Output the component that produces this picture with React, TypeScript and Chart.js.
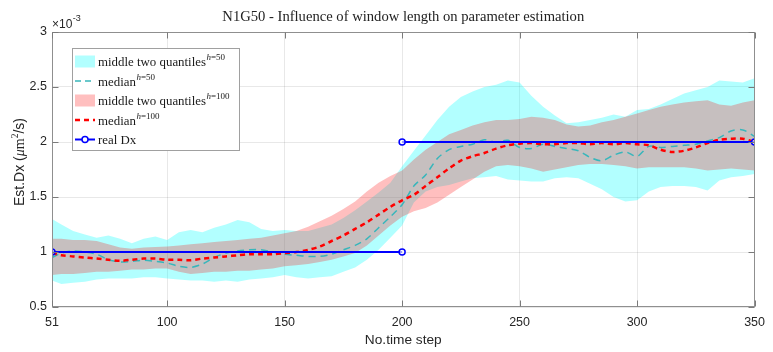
import React, { useEffect, useRef } from "react";
import { Chart, registerables } from "chart.js";

Chart.register(...registerables);

// ---- data (values are in units of 1e-3 µm²/s) ----
const steps = [
  51, 55, 60, 65, 70, 75, 80, 85, 90, 95,
  100, 105, 110, 115, 120, 125, 130, 135, 140, 145,
  150, 155, 160, 165, 170, 175, 180, 185, 190, 195,
  200, 205, 210, 215, 220, 225, 230, 235, 240, 245,
  250, 255, 260, 265, 270, 275, 280, 285, 290, 295,
  300, 305, 310, 315, 320, 325, 330, 335, 340, 345,
  350,
];

const q50Upper = [
  1.30, 1.25, 1.19, 1.16, 1.13, 1.15, 1.12, 1.08, 1.12, 1.14,
  1.11, 1.18, 1.20, 1.18, 1.22, 1.25, 1.29, 1.27, 1.21, 1.19,
  1.20, 1.19, 1.19, 1.22, 1.25, 1.31, 1.38, 1.46, 1.54, 1.63,
  1.78, 1.92, 2.06, 2.20, 2.32, 2.41, 2.46, 2.50, 2.52, 2.56,
  2.54, 2.42, 2.32, 2.24, 2.17, 2.18, 2.20, 2.22, 2.25, 2.23,
  2.29, 2.30, 2.34, 2.39, 2.44, 2.47, 2.50, 2.56, 2.55, 2.54,
  2.58,
];

const q50Lower = [
  0.74, 0.71, 0.72, 0.73, 0.75, 0.76, 0.76, 0.76, 0.77, 0.77,
  0.76, 0.75, 0.74, 0.74, 0.73, 0.74, 0.73, 0.75, 0.76, 0.77,
  0.79, 0.77, 0.76, 0.77, 0.78, 0.82, 0.86, 0.93, 1.02, 1.13,
  1.24, 1.45, 1.55, 1.59, 1.61, 1.64, 1.67, 1.68, 1.69, 1.66,
  1.65, 1.64, 1.64, 1.67, 1.68, 1.67, 1.62, 1.57, 1.50, 1.46,
  1.47, 1.55, 1.59, 1.60, 1.60, 1.59, 1.56, 1.65, 1.68, 1.69,
  1.71,
];

const q100Upper = [
  1.12, 1.12, 1.11, 1.11, 1.10, 1.07, 1.04, 1.03, 1.04, 1.045,
  1.05, 1.06, 1.07, 1.08, 1.09, 1.10, 1.11, 1.12, 1.13, 1.15,
  1.17, 1.19, 1.23, 1.28, 1.33, 1.39, 1.46, 1.55, 1.63, 1.69,
  1.74, 1.84, 1.93, 2.00, 2.07, 2.11, 2.15, 2.18, 2.20, 2.20,
  2.21, 2.23, 2.22, 2.20, 2.16, 2.14, 2.15, 2.18, 2.20, 2.23,
  2.26, 2.29, 2.32, 2.34, 2.36, 2.37, 2.38, 2.34, 2.33, 2.36,
  2.38,
];

const q100Lower = [
  0.79, 0.80, 0.80, 0.81, 0.82, 0.82, 0.83, 0.84, 0.84, 0.85,
  0.85, 0.82, 0.80, 0.81, 0.82, 0.82, 0.83, 0.83, 0.84, 0.85,
  0.87, 0.88, 0.89, 0.91, 0.93, 0.96, 0.99, 1.06, 1.15, 1.24,
  1.32, 1.37, 1.40, 1.45, 1.52, 1.59, 1.66, 1.73, 1.78, 1.79,
  1.78, 1.76, 1.73, 1.75, 1.77, 1.79, 1.80, 1.80, 1.79, 1.78,
  1.76, 1.77, 1.77, 1.77, 1.77, 1.76, 1.74, 1.75, 1.76, 1.75,
  1.74,
];

const median100 = [
  0.99, 0.97, 0.96, 0.95, 0.94, 0.93, 0.92, 0.93, 0.94, 0.94,
  0.93, 0.93, 0.925, 0.94, 0.95, 0.96, 0.97, 0.98, 0.98, 0.98,
  0.99, 1.00, 1.02, 1.05, 1.10, 1.15, 1.21, 1.27, 1.34, 1.41,
  1.47, 1.52, 1.60, 1.68, 1.76, 1.83, 1.87, 1.90, 1.94, 1.97,
  1.985, 1.99, 1.98, 1.98, 1.99, 1.99, 1.98, 1.99, 1.98, 1.99,
  1.98, 1.97, 1.93, 1.91, 1.92, 1.95, 1.99, 2.02, 2.03, 2.03,
  2.00,
];

const median50 = [
  0.95, 0.99, 1.01, 1.00, 0.98, 0.93, 0.91, 0.915, 0.925, 0.915,
  0.90, 0.87, 0.86, 0.89, 0.95, 0.99, 1.01, 1.02, 1.02, 1.00,
  0.98, 0.97, 0.96, 0.96, 0.98, 1.02, 1.06, 1.12, 1.22, 1.32,
  1.43, 1.60, 1.70, 1.85, 1.93, 1.96, 1.98, 2.02, 2.00, 2.015,
  1.95, 1.94, 1.98, 1.96, 1.94, 1.92, 1.86, 1.83, 1.88, 1.91,
  1.87, 1.96, 1.95, 1.96, 1.97, 1.98, 2.01, 2.04, 2.10, 2.11,
  2.05,
];

const realStepsA = [51, 200];
const realDxA = [1, 1];
const realStepsB = [200, 350];
const realDxB = [2, 2];

const xTicks = [51, 100, 150, 200, 250, 300, 350];
const yTicks = [0.5, 1, 1.5, 2, 2.5, 3];

const titleText = "N1G50 - Influence of window length on parameter estimation";
const xTitle = "No.time step";
const legendLabels = ["middle two quantiles", "median", "middle two quantiles", "median", "real Dx"];
const legendSups = ["h=50", "h=50", "h=100", "h=100", ""];

const CYAN_FILL = "rgba(0,255,255,0.3)";
const RED_FILL = "rgba(255,0,0,0.25)";
const CYAN_LINE = "#38b6bb";
const RED_LINE = "#ff0000";
const BLUE = "#0000ff";
const SANS = "'Liberation Sans', Arial, Helvetica, sans-serif";
const SERIF = "'Liberation Serif', 'Times New Roman', 'DejaVu Serif', serif";
const TXT = "#262626";

const pts = (xs: number[], ys: number[]) => xs.map((x, i) => ({ x, y: ys[i] }));

const decor = {
  id: "decor",
  afterDraw(chart: any) {
    const { ctx, chartArea: a, scales } = chart;
    const xs = scales.x;
    const ys = scales.y;
    ctx.save();

    // frame
    const L = Math.round(a.left) + 0.5;
    const R = Math.round(a.right) - 0.5;
    const T = Math.round(a.top) + 0.5;
    const B = Math.round(a.bottom) - 0.5;
    ctx.strokeStyle = "#8f8f8f";
    ctx.lineWidth = 1;
    ctx.strokeRect(L, T, R - L, B - T);

    // inward ticks
    ctx.strokeStyle = "#7a7a7a";
    ctx.beginPath();
    xTicks.forEach((v) => {
      const p = Math.round(xs.getPixelForValue(v)) + 0.5;
      ctx.moveTo(p, B);
      ctx.lineTo(p, B - 6);
      ctx.moveTo(p, T);
      ctx.lineTo(p, T + 6);
    });
    yTicks.forEach((v) => {
      const p = Math.round(ys.getPixelForValue(v)) + 0.5;
      ctx.moveTo(L, p);
      ctx.lineTo(L + 6, p);
      ctx.moveTo(R, p);
      ctx.lineTo(R - 6, p);
    });
    ctx.stroke();

    // title
    ctx.fillStyle = "#222";
    ctx.font = `16px ${SERIF}`;
    const tw = ctx.measureText(titleText).width;
    const tfs = (16 * 362) / tw;
    ctx.font = `${tfs.toFixed(2)}px ${SERIF}`;
    ctx.textAlign = "center";
    ctx.textBaseline = "alphabetic";
    ctx.fillText(titleText, (a.left + a.right) / 2, 21);

    // x10^-3
    ctx.textAlign = "left";
    ctx.fillStyle = TXT;
    ctx.font = `12px ${SANS}`;
    ctx.fillText("\u00d710", 52, 28);
    const w10 = ctx.measureText("\u00d710").width;
    ctx.font = `9px ${SANS}`;
    ctx.fillText("-3", 52 + w10 + 0.5, 21);

    // x axis title
    ctx.font = `13.7px ${SANS}`;
    ctx.textAlign = "center";
    ctx.textBaseline = "middle";
    ctx.fillText(xTitle, (a.left + a.right) / 2, 340);

    // y axis title (rotated)
    ctx.save();
    ctx.translate(20, 162);
    ctx.rotate(-Math.PI / 2);
    ctx.textBaseline = "middle";
    const parts: { t: string; f: string; dy: number }[] = [
      { t: "Est.Dx (", f: `14px ${SANS}`, dy: 0 },
      { t: "\u03bc", f: `italic 14px ${SERIF}`, dy: 0 },
      { t: "m", f: `14px ${SERIF}`, dy: 0 },
      { t: "2", f: `9.5px ${SERIF}`, dy: -5 },
      { t: "/s)", f: `14px ${SANS}`, dy: 0 },
    ];
    let total = 0;
    parts.forEach((p) => {
      ctx.font = p.f;
      total += ctx.measureText(p.t).width;
    });
    let cx = -total / 2;
    ctx.textAlign = "left";
    parts.forEach((p) => {
      ctx.font = p.f;
      ctx.fillText(p.t, cx, p.dy);
      cx += ctx.measureText(p.t).width;
    });
    ctx.restore();

    // legend
    const lx = 72.5, ly = 48.5, lw = 167, lh = 102;
    ctx.fillStyle = "#ffffff";
    ctx.fillRect(lx, ly, lw, lh);
    ctx.strokeStyle = "#a0a0a0";
    ctx.lineWidth = 1;
    ctx.strokeRect(lx, ly, lw, lh);
    const rows = [61.5, 81, 100.5, 120, 139.5];
    const sx0 = 75, sx1 = 95;
    ctx.font = `13px ${SERIF}`;
    const mw = ctx.measureText("middle two quantiles").width;
    const lfs = (13 * 108) / mw;
    rows.forEach((ry, i) => {
      ctx.save();
      if (i === 0 || i === 2) {
        ctx.fillStyle = i === 0 ? CYAN_FILL : RED_FILL;
        ctx.fillRect(sx0, ry - 6, sx1 - sx0, 12);
      } else if (i === 1) {
        ctx.strokeStyle = CYAN_LINE;
        ctx.lineWidth = 1.5;
        ctx.setLineDash([6, 4]);
        ctx.beginPath();
        ctx.moveTo(sx0, ry);
        ctx.lineTo(sx1, ry);
        ctx.stroke();
      } else if (i === 3) {
        ctx.strokeStyle = RED_LINE;
        ctx.lineWidth = 2.5;
        ctx.setLineDash([5, 4]);
        ctx.beginPath();
        ctx.moveTo(sx0, ry);
        ctx.lineTo(sx1, ry);
        ctx.stroke();
      } else {
        ctx.strokeStyle = BLUE;
        ctx.lineWidth = 2;
        ctx.beginPath();
        ctx.moveTo(sx0, ry);
        ctx.lineTo(sx1, ry);
        ctx.stroke();
        ctx.lineWidth = 1.5;
        ctx.fillStyle = "#ffffff";
        ctx.beginPath();
        ctx.arc((sx0 + sx1) / 2, ry, 3, 0, Math.PI * 2);
        ctx.fill();
        ctx.stroke();
      }
      ctx.restore();
      ctx.fillStyle = "#1a1a1a";
      ctx.textAlign = "left";
      ctx.textBaseline = "alphabetic";
      ctx.font = `${lfs.toFixed(2)}px ${SERIF}`;
      const base = ry + 4.5;
      ctx.fillText(legendLabels[i], 98, base);
      let px = 98 + ctx.measureText(legendLabels[i]).width + 0.5;
      const sup = legendSups[i];
      if (sup) {
        ctx.font = `italic 9px ${SERIF}`;
        ctx.fillText(sup[0], px, base - 6);
        px += ctx.measureText(sup[0]).width;
        ctx.font = `9px ${SERIF}`;
        ctx.fillText(sup.slice(1), px, base - 6);
      }
    });

    ctx.restore();
  },
};

export default function App() {
  const ref = useRef<HTMLCanvasElement>(null);

  useEffect(() => {
    document.body.style.margin = "0";
    const canvas = ref.current;
    if (!canvas) return;
    const noLine = "rgba(0,0,0,0)";
    const chart = new Chart(canvas, {
      type: "line",
      data: {
        datasets: [
          {
            label: "real Dx",
            data: pts(realStepsA, realDxA),
            borderColor: BLUE,
            borderWidth: 2,
            pointRadius: 3,
            pointBorderWidth: 1.5,
            pointBorderColor: BLUE,
            pointBackgroundColor: "rgba(255,255,255,0.6)",
            fill: false,
            order: 0,
          },
          {
            label: "real Dx 2",
            data: pts(realStepsB, realDxB),
            borderColor: BLUE,
            borderWidth: 2,
            pointRadius: 3,
            pointBorderWidth: 1.5,
            pointBorderColor: BLUE,
            pointBackgroundColor: "rgba(255,255,255,0.6)",
            fill: false,
            order: 0,
          },
          {
            label: "median h=100",
            data: pts(steps, median100),
            borderColor: RED_LINE,
            borderWidth: 2.5,
            borderDash: [5, 4],
            pointRadius: 0,
            tension: 0.3,
            fill: false,
            order: 1,
          },
          {
            label: "median h=50",
            data: pts(steps, median50),
            borderColor: CYAN_LINE,
            borderWidth: 1.5,
            borderDash: [7, 5],
            pointRadius: 0,
            tension: 0.3,
            fill: false,
            order: 2,
          },
          {
            label: "q100 lower",
            data: pts(steps, q100Lower),
            borderColor: noLine,
            borderWidth: 1,
            pointRadius: 0,
            fill: false,
            order: 3,
          },
          {
            label: "q100 upper",
            data: pts(steps, q100Upper),
            borderColor: noLine,
            borderWidth: 1,
            pointRadius: 0,
            backgroundColor: RED_FILL,
            fill: "-1",
            order: 3,
          },
          {
            label: "q50 lower",
            data: pts(steps, q50Lower),
            borderColor: noLine,
            borderWidth: 1,
            pointRadius: 0,
            fill: false,
            order: 4,
          },
          {
            label: "q50 upper",
            data: pts(steps, q50Upper),
            borderColor: noLine,
            borderWidth: 1,
            pointRadius: 0,
            backgroundColor: CYAN_FILL,
            fill: "-1",
            order: 4,
          },
        ],
      },
      options: {
        responsive: false,
        animation: false,
        events: [],
        layout: { padding: { top: 32, right: 14, left: 0, bottom: 0 } },
        plugins: {
          legend: { display: false },
          tooltip: { enabled: false },
          title: { display: false },
          filler: { propagate: false, drawTime: "beforeDatasetDraw" },
        },
        scales: {
          x: {
            type: "linear",
            min: 51,
            max: 350,
            afterBuildTicks: (s: any) => {
              s.ticks = xTicks.map((v) => ({ value: v }));
            },
            afterFit: (s: any) => {
              s.height = 45;
            },
            grid: { color: "rgba(0,0,0,0.09)", drawTicks: false },
            border: { display: false },
            ticks: {
              autoSkip: false,
              maxRotation: 0,
              padding: 8,
              color: TXT,
              font: { family: SANS, size: 12.5 },
              callback: (v: any) => String(v),
            },
          },
          y: {
            type: "linear",
            min: 0.5,
            max: 3,
            afterBuildTicks: (s: any) => {
              s.ticks = yTicks.map((v) => ({ value: v }));
            },
            afterFit: (s: any) => {
              s.width = 52;
            },
            grid: { color: "rgba(0,0,0,0.09)", drawTicks: false },
            border: { display: false },
            ticks: {
              padding: 5,
              color: TXT,
              font: { family: SANS, size: 12.5 },
              callback: (v: any) => String(v),
            },
          },
        },
      },
      plugins: [decor],
    } as any);
    return () => chart.destroy();
  }, []);

  return (
    <div style={{ width: 773, height: 352, background: "#fff" }}>
      <canvas ref={ref} width={773} height={352} style={{ display: "block" }} />
    </div>
  );
}
